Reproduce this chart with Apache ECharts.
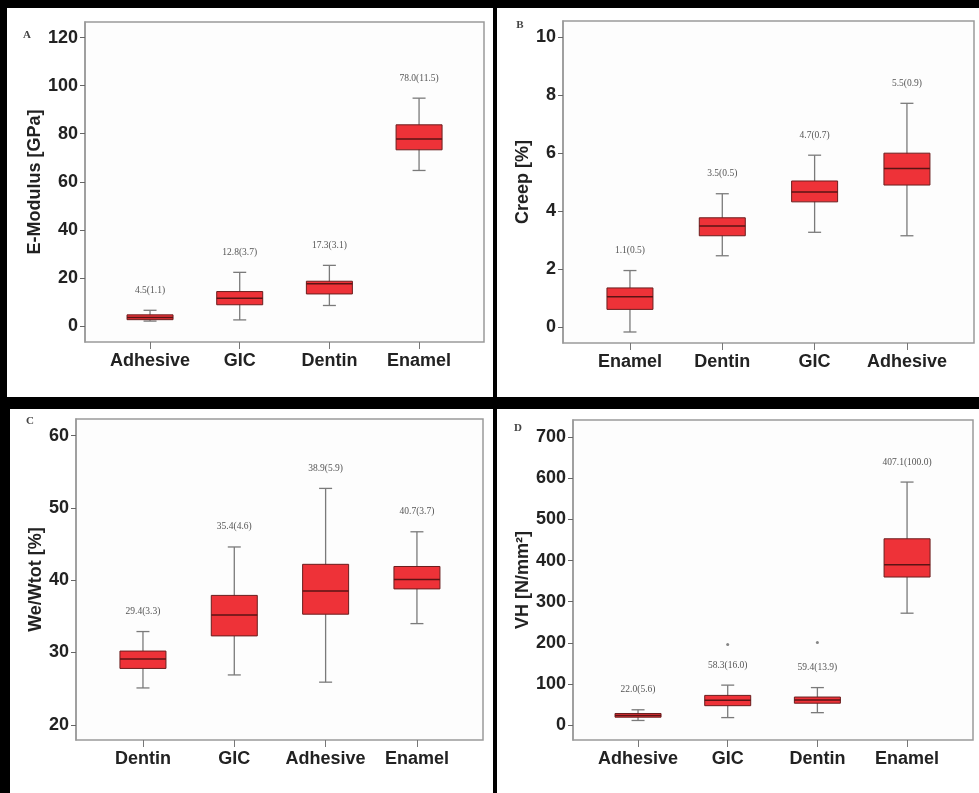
<!DOCTYPE html>
<html>
<head>
<meta charset="utf-8">
<script src="https://cdn.jsdelivr.net/npm/echarts@6/dist/echarts.min.js"></script>
<style>
html,body{margin:0;padding:0;background:#000;}
#c{width:979px;height:793px;}
</style>
</head>
<body>
<div id="c"></div>
<script>
// ---- Data ----
// Panel A: E-Modulus [GPa]
const catsA = ['Adhesive', 'GIC', 'Dentin', 'Enamel'];
// [low whisker, Q1, median, Q3, high whisker]
const boxA = [
  [2.0, 2.6, 3.5, 4.6, 6.5],
  [2.5, 8.8, 11.5, 14.3, 22.3],
  [8.5, 13.3, 17.5, 18.6, 25.2],
  [64.7, 73.3, 77.8, 83.7, 94.8]
];
const labelsA = ['4.5(1.1)', '12.8(3.7)', '17.3(3.1)', '78.0(11.5)'];
const ticksA = [0, 20, 40, 60, 80, 100, 120];

// Panel B: Creep [%]
const catsB = ['Enamel', 'Dentin', 'GIC', 'Adhesive'];
const boxB = [
  [-0.17, 0.61, 1.05, 1.35, 1.95],
  [2.46, 3.15, 3.49, 3.77, 4.6],
  [3.27, 4.32, 4.66, 5.04, 5.93],
  [3.15, 4.9, 5.47, 6.0, 7.72]
];
const labelsB = ['1.1(0.5)', '3.5(0.5)', '4.7(0.7)', '5.5(0.9)'];
const ticksB = [0, 2, 4, 6, 8, 10];

// Panel C: We/Wtot [%]
const catsC = ['Dentin', 'GIC', 'Adhesive', 'Enamel'];
const boxC = [
  [25.1, 27.8, 29.1, 30.2, 32.9],
  [26.9, 32.3, 35.2, 37.9, 44.6],
  [25.9, 35.3, 38.5, 42.2, 52.7],
  [34.0, 38.8, 40.1, 41.9, 46.7]
];
const labelsC = ['29.4(3.3)', '35.4(4.6)', '38.9(5.9)', '40.7(3.7)'];
const ticksC = [20, 30, 40, 50, 60];

// Panel D: VH [N/mm²]
const catsD = ['Adhesive', 'GIC', 'Dentin', 'Enamel'];
const boxD = [
  [11, 19, 23, 28, 37],
  [18, 47, 60, 72, 97],
  [30, 53, 61, 68, 91],
  [272, 360, 390, 453, 591]
];
const labelsD = ['22.0(5.6)', '58.3(16.0)', '59.4(13.9)', '407.1(100.0)'];
const outliersD = [[1, 196], [2, 201]];
const ticksD = [0, 100, 200, 300, 400, 500, 600, 700];

// ---- Layout ----
const panels = [
  {letter:'A', name:'E-Modulus [GPa]', cats:catsA, box:boxA, labels:labelsA, ticks:ticksA,
   min:-6.7, max:126.5, frame:{left:85, top:22, width:399, height:320},
   data:{left:105.2, width:358.7}, nameGap:37, letterPos:[27,35], outliers:[]},
  {letter:'B', name:'Creep [%]', cats:catsB, box:boxB, labels:labelsB, ticks:ticksB,
   min:-0.55, max:10.56, frame:{left:563, top:21, width:411, height:322},
   data:{left:583.8, width:369.3}, nameGap:26, letterPos:[520,25], outliers:[]},
  {letter:'C', name:'We/Wtot [%]', cats:catsC, box:boxC, labels:labelsC, ticks:ticksC,
   min:17.9, max:62.3, frame:{left:76, top:419, width:407, height:321},
   data:{left:97.3, width:365.3}, nameGap:30, letterPos:[30,421], outliers:[]},
  {letter:'D', name:'VH [N/mm²]', cats:catsD, box:boxD, labels:labelsD, ticks:ticksD,
   min:-36.5, max:742, frame:{left:573, top:420, width:400, height:320},
   data:{left:593.2, width:358.7}, nameGap:40, letterPos:[518,428], outliers:outliersD}
];

const grids = [], xAxes = [], yAxes = [], series = [], graphics = [];

// panel backgrounds
const bgRects = [
  [7, 8, 486, 389],
  [497, 8, 482, 389],
  [10, 409, 483, 384],
  [497, 409, 482, 384]
];
bgRects.forEach(r => graphics.push({type:'rect', z:-10, silent:true,
  shape:{x:r[0], y:r[1], width:r[2], height:r[3]}, style:{fill:'#ffffff'}}));

function makeRender(labels) {
  return function (params, api) {
    const i = api.value(0);
    const lo = api.coord([i, api.value(1)]);
    const q1 = api.coord([i, api.value(2)]);
    const md = api.coord([i, api.value(3)]);
    const q3 = api.coord([i, api.value(4)]);
    const hi = api.coord([i, api.value(5)]);
    const x = lo[0];
    const bw = 46, cw = 13;
    const wStyle = {stroke:'#7a7a7a', lineWidth:1.3};
    return {type:'group', children:[
      {type:'line', shape:{x1:x, y1:hi[1], x2:x, y2:lo[1]}, style:wStyle},
      {type:'line', shape:{x1:x-cw/2, y1:hi[1], x2:x+cw/2, y2:hi[1]}, style:wStyle},
      {type:'line', shape:{x1:x-cw/2, y1:lo[1], x2:x+cw/2, y2:lo[1]}, style:wStyle},
      {type:'rect', shape:{x:x-bw/2, y:q3[1], width:bw, height:q1[1]-q3[1]},
       style:{fill:'#ee3238', stroke:'#6a1e1e', lineWidth:1}},
      {type:'line', shape:{x1:x-bw/2, y1:md[1], x2:x+bw/2, y2:md[1]},
       style:{stroke:'#5a1414', lineWidth:1.5}},
      {type:'text', x:x, y:hi[1]-20, style:{text:labels[params.dataIndex],
        fill:'#555', font:'9.5px "Liberation Serif"', align:'center', verticalAlign:'middle'}}
    ]};
  };
}

panels.forEach((p, k) => {
  const fi = 2*k, di = 2*k+1;
  grids.push({left:p.frame.left, top:p.frame.top, width:p.frame.width, height:p.frame.height,
    show:true, borderColor:'#9a9a9a', borderWidth:1.5, backgroundColor:'#fdfdfd'});
  grids.push({left:p.data.left, top:p.frame.top, width:p.data.width, height:p.frame.height});
  xAxes.push({gridIndex:fi, type:'value', show:false, min:0, max:1});
  yAxes.push({gridIndex:fi, type:'value', min:p.min, max:p.max,
    name:p.name, nameLocation:'middle', nameRotate:90, nameGap:p.nameGap,
    nameTextStyle:{fontFamily:'Liberation Sans', fontWeight:'bold', fontSize:18, color:'#222'},
    axisLine:{show:true, onZero:false, lineStyle:{color:'#9a9a9a', width:1.5}},
    axisTick:{show:true, length:5, customValues:p.ticks, lineStyle:{color:'#666'}},
    axisLabel:{customValues:p.ticks, margin:7, fontFamily:'Liberation Sans', fontWeight:'bold',
      fontSize:18, color:'#222'},
    splitLine:{show:false}});
  xAxes.push({gridIndex:di, type:'category', data:p.cats, position:'bottom',
    axisLine:{show:false, onZero:false},
    axisTick:{show:true, alignWithLabel:true, interval:0, length:7, lineStyle:{color:'#777'}},
    axisLabel:{interval:0, margin:10, fontFamily:'Liberation Sans', fontWeight:'bold', fontSize:18, color:'#222'},
    splitLine:{show:false}});
  yAxes.push({gridIndex:di, type:'value', min:p.min, max:p.max, show:false, splitLine:{show:false}});
  series.push({type:'custom', xAxisIndex:k*2+1, yAxisIndex:k*2+1,
    renderItem:makeRender(p.labels),
    encode:{x:0, y:[1,2,3,4,5]},
    data:p.box.map((b,i) => [i].concat(b)), z:5});
  if (p.outliers.length) {
    series.push({type:'scatter', xAxisIndex:k*2+1, yAxisIndex:k*2+1,
      data:p.outliers, symbol:'circle', symbolSize:3, itemStyle:{color:'#666'}, z:6});
  }
  graphics.push({type:'text', x:p.letterPos[0], y:p.letterPos[1], z:10,
    style:{text:p.letter, fill:'#444', font:'bold 11px "Liberation Serif"', align:'center', verticalAlign:'middle'}});
});

const chart = echarts.init(document.getElementById('c'), null, {renderer:'canvas'});
chart.setOption({
  backgroundColor:'#000000',
  animation:false,
  grid:grids, xAxis:xAxes, yAxis:yAxes, series:series,
  graphic:graphics
});
</script>
</body>
</html>
